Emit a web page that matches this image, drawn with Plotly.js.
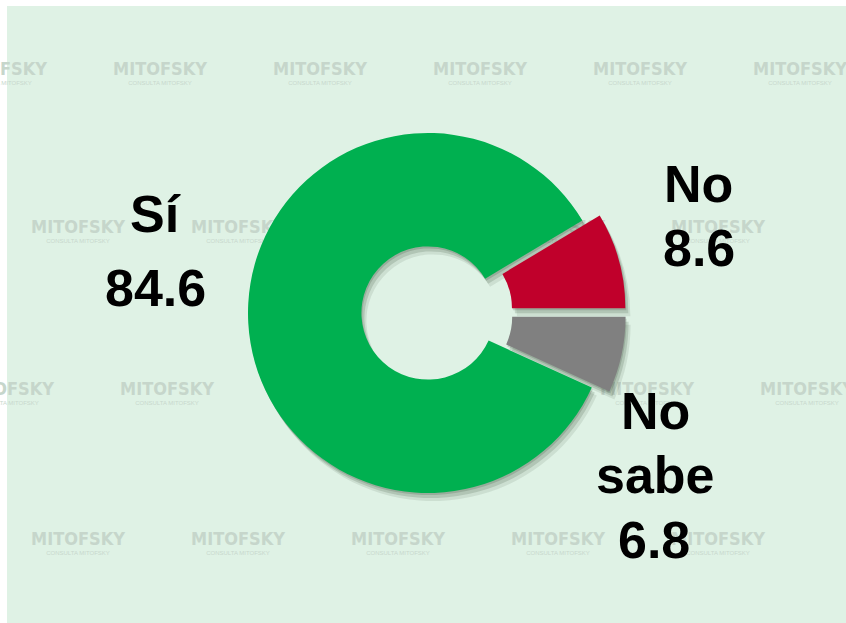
<!DOCTYPE html>
<html>
<head>
<meta charset="utf-8">
<script src="https://cdn.plot.ly/plotly-3.0.1.min.js"></script>
<style>html,body{margin:0;padding:0;background:#fff;}#chart{width:846px;height:623px;}</style>
</head>
<body>
<div id="chart"></div>
<script>
// ---- data ----
var categories = ['Sí', 'No', 'No sabe'];
var values = [84.6, 8.6, 6.8];
var valueLabels = ['84.6', '8.6', '6.8'];
var sliceColors = ['#00B050', '#C0002B', '#808080'];
var pulls = [0, 0.1, 0.1];

// ---- geometry helpers (layout only) ----
var W = 846, H = 623;
var cx = 428, cy = 313, R = 180;
var side = 2 * R * (1 + Math.max.apply(null, pulls));
function dom(px, py) {
  return {
    x: [(px - side / 2) / W, (px + side / 2) / W],
    y: [(H - py - side / 2) / H, (H - py + side / 2) / H]
  };
}
var total = values.reduce(function (a, b) { return a + b; }, 0);
var rot = 90 + 360 * values[2] / total;

function pieTrace(colors, d) {
  return {
    type: 'pie',
    labels: categories,
    values: values,
    hole: 0.37,
    sort: false,
    direction: 'clockwise',
    rotation: rot,
    pull: pulls,
    textinfo: 'none',
    hoverinfo: 'skip',
    showlegend: false,
    marker: { colors: colors, line: { width: 0 } },
    domain: d
  };
}

// ---- watermark (decoration, drawn beneath the pie) ----
var wmX = [], wmY = [], subX = [], subY = [];
var wmRows = [
  { y: 70, x0: 0 },
  { y: 228, x0: -82 },
  { y: 390, x0: 7 },
  { y: 540, x0: -82 }
];
wmRows.forEach(function (row) {
  for (var x = row.x0; x < W + 100; x += 160) {
    wmX.push(x); wmY.push(row.y);
    subX.push(x); subY.push(row.y + 13);
  }
});
var wmTrace = {
  type: 'scatter', mode: 'text', x: wmX, y: wmY,
  text: wmX.map(function () { return '<b>MITOFSKY</b>'; }),
  textposition: 'middle center', cliponaxis: false,
  textfont: { family: 'Liberation Sans Narrow, DejaVu Sans Condensed, Liberation Sans, sans-serif', size: 18, color: '#c6d6cb' },
  hoverinfo: 'skip', showlegend: false
};
var subTrace = {
  type: 'scatter', mode: 'text', x: subX, y: subY,
  text: subX.map(function () { return 'CONSULTA MITOFSKY'; }),
  textposition: 'middle center', cliponaxis: false,
  textfont: { family: 'Liberation Sans, sans-serif', size: 6, color: '#c8d8cd' },
  hoverinfo: 'skip', showlegend: false
};

var traces = [
  wmTrace, subTrace,
  pieTrace(['rgba(40,60,40,0.10)', 'rgba(40,60,40,0.10)', 'rgba(40,60,40,0.10)'], dom(cx + 5, cy + 8)),
  pieTrace(['rgba(40,60,40,0.16)', 'rgba(40,60,40,0.16)', 'rgba(40,60,40,0.16)'], dom(cx + 3, cy + 5)),
  pieTrace(['rgba(40,60,40,0.18)', 'rgba(40,60,40,0.18)', 'rgba(40,60,40,0.18)'], dom(cx + 1, cy + 2)),
  pieTrace(sliceColors, dom(cx, cy))
];

// ---- labels ----
var annotations = [];
var labelFont = { family: 'Liberation Sans, Arial, sans-serif', size: 52, color: '#000000' };
function lab(txt, px, py) {
  annotations.push({
    xref: 'paper', yref: 'paper', x: px / W, y: 1 - py / H,
    xanchor: 'center', yanchor: 'middle', showarrow: false,
    text: '<b>' + txt + '</b>', font: labelFont
  });
}
lab(categories[0], 155, 214);
lab(valueLabels[0], 155, 288);
lab(categories[1], 698, 184);
lab(valueLabels[1], 699, 248);
var ns = categories[2].split(' ');
lab(ns[0], 655, 411);
lab(ns[1], 655, 475);
lab(valueLabels[2], 654, 540);

var layout = {
  width: W, height: H,
  margin: { l: 0, r: 0, t: 0, b: 0 },
  paper_bgcolor: '#ffffff',
  plot_bgcolor: 'rgba(0,0,0,0)',
  showlegend: false,
  xaxis: { range: [0, W], visible: false, fixedrange: true },
  yaxis: { range: [H, 0], visible: false, fixedrange: true },
  shapes: [{
    type: 'rect', xref: 'paper', yref: 'paper', layer: 'below',
    x0: 7 / W, x1: 1, y0: 0, y1: 1 - 6 / H,
    fillcolor: '#dff2e5', line: { width: 0 }
  }],
  annotations: annotations
};

Plotly.newPlot('chart', traces, layout, { staticPlot: true, displayModeBar: false });
</script>
</body>
</html>
